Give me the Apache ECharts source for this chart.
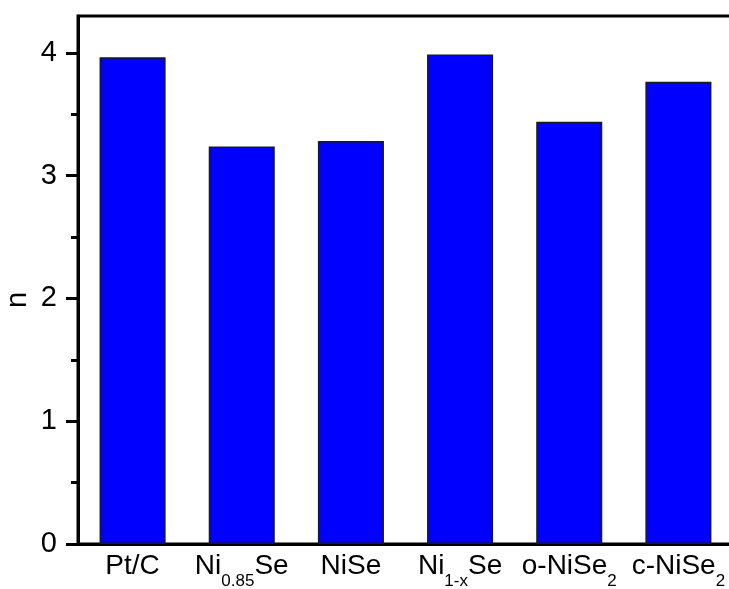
<!DOCTYPE html>
<html>
<head>
<meta charset="utf-8">
<script src="https://cdn.jsdelivr.net/npm/echarts@6/dist/echarts.min.js"></script>
<style>
  html, body { margin: 0; padding: 0; background: #fff; }
  #chart { width: 729px; height: 589px; }
</style>
</head>
<body>
<div id="chart"></div>
<script>
// Catalyst names; text inside _{...} is set as a subscript
const categories = ['Pt/C', 'Ni_{0.85}Se', 'NiSe', 'Ni_{1-x}Se', 'o-NiSe_{2}', 'c-NiSe_{2}'];
// Electron transfer number n for each catalyst
const nValues = [3.965, 3.237, 3.283, 3.986, 3.438, 3.764];
// Y axis ticks
const majorTicks = [0, 1, 2, 3, 4];
const minorTicks = [0.5, 1.5, 2.5, 3.5];
const yMin = 0;
const yMax = 4.3;

const FONT = '"Liberation Sans", Arial, sans-serif';

// Turn 'Ni_{0.85}Se' into rich text tokens
function toRich(name) {
  let out = '';
  const re = /_\{([^}]*)\}/g;
  let last = 0, m;
  while ((m = re.exec(name)) !== null) {
    if (m.index > last) out += '{b|' + name.slice(last, m.index) + '}';
    out += '{s|' + m[1] + '}';
    last = re.lastIndex;
  }
  if (last < name.length) out += '{b|' + name.slice(last) + '}';
  return out;
}

const chart = echarts.init(document.getElementById('chart'), null, { renderer: 'canvas' });

chart.setOption({
  animation: false,
  backgroundColor: '#ffffff',
  grid: {
    left: 78,
    top: 16,
    width: 655,
    bottom: 45,
    containLabel: false,
    outerBoundsMode: 'none',
    show: true,
    borderColor: '#000',
    borderWidth: 3,
    backgroundColor: 'transparent'
  },
  xAxis: {
    type: 'category',
    data: categories,
    boundaryGap: true,
    axisLine: { show: true, lineStyle: { color: '#000', width: 3 } },
    axisTick: { show: false },
    splitLine: { show: false },
    axisLabel: {
      interval: 0,
      margin: 8,
      color: '#000',
      formatter: toRich,
      rich: {
        b: { fontFamily: FONT, fontSize: 28, lineHeight: 30, color: '#000', verticalAlign: 'top' },
        s: { fontFamily: FONT, fontSize: 17, lineHeight: 17, color: '#000', verticalAlign: 'top', padding: [21, 0, 0, 0] }
      }
    }
  },
  yAxis: [
    {
      type: 'value',
      min: yMin,
      max: yMax,
      interval: 1,
      name: 'n',
      nameLocation: 'middle',
      nameGap: 46,
      nameRotate: 90,
      nameMoveOverlap: false,
      nameTextStyle: { fontFamily: FONT, fontSize: 29, color: '#000', padding: [0, 40, 0, 0] },
      axisLine: { show: true, lineStyle: { color: '#000', width: 3 } },
      axisTick: {
        show: true,
        inside: false,
        length: 12,
        customValues: majorTicks,
        lineStyle: { color: '#000', width: 3 }
      },
      axisLabel: {
        customValues: majorTicks,
        margin: 21,
        fontFamily: FONT,
        fontSize: 29,
        color: '#000'
      },
      splitLine: { show: false }
    },
    {
      type: 'value',
      position: 'left',
      min: yMin,
      max: yMax,
      interval: 1,
      axisLine: { show: false },
      axisTick: {
        show: true,
        inside: false,
        length: 7,
        customValues: minorTicks,
        lineStyle: { color: '#000', width: 3 }
      },
      axisLabel: { show: false },
      splitLine: { show: false }
    }
  ],
  series: [
    {
      type: 'bar',
      data: nValues,
      barWidth: '60.5%',
      itemStyle: {
        color: '#0000ff',
        borderColor: '#1a1a1a',
        borderWidth: 1.5
      }
    }
  ]
});
</script>
</body>
</html>
